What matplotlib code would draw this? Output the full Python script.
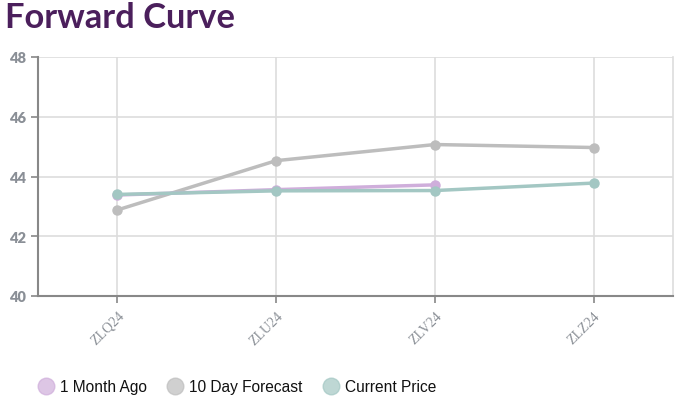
import matplotlib
matplotlib.use("Agg")
import matplotlib.pyplot as plt
from matplotlib.lines import Line2D

categories = ["ZLQ24", "ZLU24", "ZLV24", "ZLZ24"]
month_ago = [43.38, 43.56, 43.72]
forecast = [42.88, 44.53, 45.07, 44.97]
current = [43.40, 43.52, 43.53, 43.78]
yticks = [40, 42, 44, 46, 48]

c_month = "#cfaedb"
c_fore = "#bdbdbd"
c_cur = "#a3c7c3"

fig = plt.figure(figsize=(6.88, 4.06), dpi=100)
ax = fig.add_axes([38/688, 1-297/406, (673-38)/688, (297-58)/406])

x = list(range(len(categories)))
ax.plot(x[:len(forecast)], forecast, color=c_fore, lw=2.5, marker="o", ms=6.5, zorder=3)
ax.plot(x[:len(month_ago)], month_ago, color=c_month, lw=2.5, marker="o", ms=6.5, zorder=4)
ax.plot(x[:len(current)], current, color=c_cur, lw=2.5, marker="o", ms=6.5, zorder=5)

ax.set_xlim(-0.5, 3.5)
ax.set_ylim(40, 48)
ax.set_yticks(yticks)
ax.set_yticklabels([str(v) for v in yticks], fontfamily="Lato", fontweight="heavy", fontsize=10.5, color="#8a8f96")
ax.set_xticks(x)
ax.set_xticklabels(categories, rotation=45, ha="right", rotation_mode="anchor",
                   fontfamily="Liberation Serif", fontsize=10, color="#8a8f96")
ax.grid(True, color="#dddddd", lw=1.2)
ax.set_axisbelow(True)
ax.spines["top"].set_visible(False)
ax.spines["right"].set_color("#dddddd")
ax.spines["right"].set_linewidth(1.2)
for s in ["left", "bottom"]:
    ax.spines[s].set_color("#888888")
    ax.spines[s].set_linewidth(1.5)
ax.tick_params(axis="both", color="#888888", length=5, width=1.2)
ax.tick_params(axis="x", pad=4)

fig.text(5/688, 1-18/406, "Forward Curve", fontfamily="Lato", fontweight="bold",
         fontsize=24.8, color="#4b1f5c", va="center", ha="left")

handles = [Line2D([], [], ls="none", marker="o", ms=12, color=c, markeredgecolor=c, alpha=0.7)
           for c in [c_month, c_fore, c_cur]]
leg = fig.legend(handles, ["1 Month Ago", "10 Day Forecast", "Current Price"],
                 loc="center left", bbox_to_anchor=(23/688, 1-388/406), ncol=3, frameon=False,
                 prop={"family": "Liberation Sans", "size": 11.2}, handletextpad=0.3,
                 columnspacing=1.2, handlelength=1.2)
for t in leg.get_texts():
    t.set_color("#111111")

fig.savefig("out.png", dpi=100)
